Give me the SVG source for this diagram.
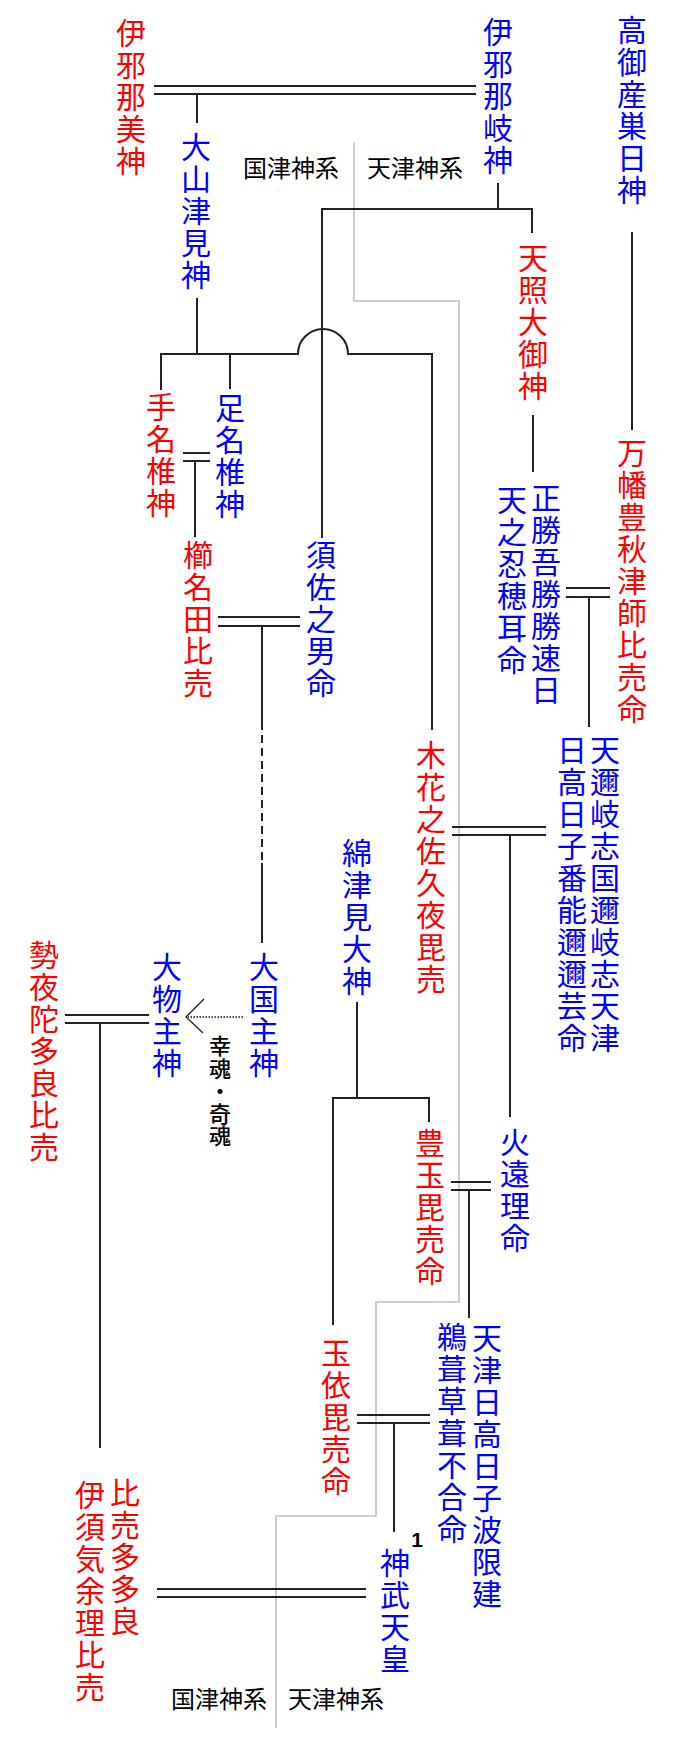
<svg xmlns="http://www.w3.org/2000/svg" width="688" height="1745" viewBox="0 0 688 1745">
<style>
.v{writing-mode:vertical-rl;font-family:"Noto Sans CJK JP","Noto Sans CJK SC",sans-serif;font-size:30px;letter-spacing:2px}
.r{fill:#ff0000}
.b{fill:#0000ff}
.k{fill:#000}
.s{font-size:22px;letter-spacing:0.4px;font-weight:500}
.lbl{font-family:"Noto Sans CJK JP","Noto Sans CJK SC",sans-serif;font-size:24px;fill:#000}
.ln{stroke:#222;stroke-width:2;fill:none}
.gray{stroke:#c0c0c0;stroke-width:1.6;fill:none}
.dash{stroke:#222;stroke-width:2;fill:none;stroke-dasharray:8 5}
.dot{stroke:#111;stroke-width:1.6;fill:none;stroke-dasharray:1.5 1.5}
</style>
<rect width="688" height="1745" fill="#ffffff"/>
<g id="divider">
<path class="gray" d="M354,142 V301 H459 V1302 H376 V1516 H276 V1728"/>
</g>
<g id="labels">
<text class="lbl" x="243" y="177">国津神系</text>
<text class="lbl" x="367" y="177">天津神系</text>
<text class="lbl" x="171" y="1708">国津神系</text>
<text class="lbl" x="288" y="1708">天津神系</text>
</g>
<g id="connectors">
<path class="ln" d="M154,86 H476 M154,94 H476"/>
<path class="ln" d="M197,94 V123"/>
<path class="ln" d="M197,298 V354"/>
<path class="ln" d="M161,390 V354 H298 A25,25 0 0 1 348,354 H432 V730"/>
<path class="ln" d="M230,354 V389"/>
<path class="ln" d="M498,183 V209 M322,538 V209 H532 V233"/>
<path class="ln" d="M533,415 V472"/>
<path class="ln" d="M632,232 V430"/>
<path class="ln" d="M183,453 H210 M183,461 H210 M195,461 V537"/>
<path class="ln" d="M218,617 H300 M218,626 H300 M262,626 V722 M262,863 V943"/>
<path class="dash" d="M262,722 V863"/>
<path class="ln" d="M566,588 H610 M566,597 H610 M589,597 V727"/>
<path class="ln" d="M452,827 H546 M452,835 H546 M510,835 V1117"/>
<path class="ln" d="M357,1002 V1098 M333,1325 V1098 H429 V1122"/>
<path class="ln" d="M451,1182 H491 M451,1190 H491 M469,1190 V1318"/>
<path class="ln" d="M357,1415 H430 M357,1423 H430 M394,1423 V1532"/>
<path class="ln" d="M65,1015 H149 M65,1023 H149 M100,1023 V1448"/>
<path class="ln" d="M157,1589 H366 M157,1597 H366"/>
<path class="dot" d="M243,1017 H188"/>
<path class="ln" style="stroke-width:1.3" d="M204,999 L186,1017 L203,1033"/>
</g>
<g id="izanami"><text class="v r" x="131" y="18">伊邪那美神</text></g>
<g id="izanagi"><text class="v b" x="498" y="17">伊邪那岐神</text></g>
<g id="takamimusubi"><text class="v b" x="632" y="15">高御産巣日神</text></g>
<g id="oyamatsumi"><text class="v b" x="196" y="132">大山津見神</text></g>
<g id="amaterasu"><text class="v r" x="533" y="243">天照大御神</text></g>
<g id="tenazuchi"><text class="v r" x="161" y="392">手名椎神</text></g>
<g id="ashinazuchi"><text class="v b" x="230" y="393">足名椎神</text></g>
<g id="kushinada"><text class="v r" x="198" y="540">櫛名田比売</text></g>
<g id="susanoo"><text class="v b" x="321" y="540">須佐之男命</text></g>
<g id="oshihomimi"><text class="v b" x="546" y="483">正勝吾勝勝速日</text><text class="v b" x="512" y="485">天之忍穂耳命</text></g>
<g id="yorozuhata"><text class="v r" x="632" y="438">万幡豊秋津師比売命</text></g>
<g id="ninigi"><text class="v b" x="605" y="735">天邇岐志国邇岐志天津</text><text class="v b" x="572" y="735">日高日子番能邇邇芸命</text></g>
<g id="konohanasakuya"><text class="v r" x="431" y="740">木花之佐久夜毘売</text></g>
<g id="watatsumi"><text class="v b" x="357" y="838">綿津見大神</text></g>
<g id="okuninushi"><text class="v b" x="264" y="952">大国主神</text></g>
<g id="omononushi"><text class="v b" x="167" y="952">大物主神</text></g>
<g id="sakimitama"><text class="v k s" x="220" y="1035">幸魂・奇魂</text></g>
<g id="seyadatara"><text class="v r" x="44" y="940">勢夜陀多良比売</text></g>
<g id="toyotama"><text class="v r" x="430" y="1128">豊玉毘売命</text></g>
<g id="hoori"><text class="v b" x="515" y="1127">火遠理命</text></g>
<g id="ugaya"><text class="v b" x="487" y="1323">天津日高日子波限建</text><text class="v b" x="452" y="1322">鵜葺草葺不合命</text></g>
<g id="tamayori"><text class="v r" x="336" y="1338">玉依毘売命</text></g>
<g id="jimmu"><text class="v b" x="395" y="1548">神武天皇</text><text x="417" y="1547" font-family="Liberation Sans, sans-serif" font-weight="bold" font-size="21" text-anchor="middle" fill="#000">1</text></g>
<g id="isukeyori"><text class="v r" x="125" y="1478">比売多多良</text><text class="v r" x="90" y="1480">伊須気余理比売</text></g>
</svg>
